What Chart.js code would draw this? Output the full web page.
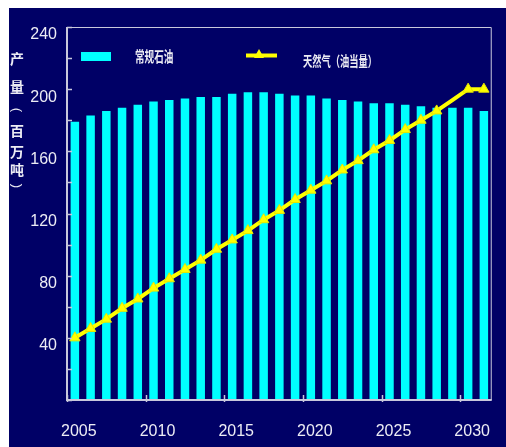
<!DOCTYPE html>
<html lang="zh">
<head>
<meta charset="UTF-8">
<title>常规石油与天然气产量</title>
<script src="https://cdn.jsdelivr.net/npm/chart.js"></script>
<style>
  html, body { margin: 0; padding: 0; background: #fff; }
  canvas { display: block; }
</style>
</head>
<body>
<canvas id="prodChart" width="506" height="447"></canvas>
<script>
const years = ['2005', '2006', '2007', '2008', '2009', '2010', '2011', '2012', '2013',
  '2014', '2015', '2016', '2017', '2018', '2019', '2020', '2021', '2022', '2023',
  '2024', '2025', '2026', '2027', '2028', '2029', '2030', '2031'];
// 常规石油, million tonnes
const oilOutput = [179, 183, 186, 188, 190, 192, 193, 194, 195, 195, 197, 198, 198, 197,
  196, 196, 194, 193, 192, 191, 191, 190, 189, 188, 188, 188, 186];
// 天然气 (oil equivalent), million tonnes
const gasOutput = [40, 46, 52, 59, 65, 72, 78, 84, 90, 97, 103, 109, 116, 122, 129, 135,
  141, 148, 154, 161, 167, 174, 180, 186, 193, 200, 200];
const gasUnmarked = ['2029'];
const yTickLabels = [40, 80, 120, 160, 200, 240];
const xTickLabels = ['2005', '2010', '2015', '2020', '2025', '2030'];
// vertical title, brackets are turned sideways when drawn
const axisTitleChars = ['产', '量', '(', '百', '万', '吨', ')'];

const NAVY = '#000066';
const TEXT = '#ececf4';
const LINE = '#c8c8dc';
const NARROW = "'Liberation Sans Narrow', 'Liberation Sans', sans-serif";
const CJK = "'Noto Sans CJK SC', sans-serif";

// white margin and navy panel behind everything
const backdrop = {
  id: 'backdrop',
  beforeDraw(chart) {
    const { ctx, width, height } = chart;
    ctx.save();
    ctx.fillStyle = '#fff';
    ctx.fillRect(0, 0, width, height);
    ctx.fillStyle = NAVY;
    ctx.fillRect(9, 8, width - 9, height - 8);
    ctx.restore();
  }
};

// axes, plot border and inward tick marks
const frame = {
  id: 'frame',
  afterDatasetsDraw(chart) {
    const { ctx, chartArea: a, scales: { x, y } } = chart;
    ctx.save();
    ctx.strokeStyle = LINE;
    ctx.lineWidth = 1;
    ctx.beginPath();
    ctx.moveTo(a.left, a.top + 0.5);
    ctx.lineTo(a.right - 0.5, a.top + 0.5);
    ctx.lineTo(a.right - 0.5, a.bottom);
    ctx.stroke();

    ctx.lineWidth = 2;
    ctx.beginPath();
    ctx.moveTo(a.left, a.top);
    ctx.lineTo(a.left, a.bottom);
    ctx.lineTo(a.right, a.bottom);
    ctx.stroke();

    ctx.lineWidth = 1.5;
    y.ticks.forEach(t => {
      const py = Math.round(y.getPixelForValue(t.value)) + 0.5;
      ctx.beginPath();
      ctx.moveTo(a.left, py);
      ctx.lineTo(a.left + 5, py);
      ctx.stroke();
    });

    const step = (a.right - a.left) / years.length;
    xTickLabels.forEach(lbl => {
      const px = Math.round(x.getPixelForValue(years.indexOf(lbl)) - step / 2) + 0.5;
      ctx.beginPath();
      ctx.moveTo(px, a.bottom - 5);
      ctx.lineTo(px, a.bottom + 2);
      ctx.stroke();
    });
    ctx.restore();
  }
};

function squeezedText(ctx, str, x, y, size, sx) {
  ctx.save();
  ctx.translate(x, y);
  ctx.scale(sx, 1);
  ctx.font = 'bold ' + size + 'px ' + CJK;
  ctx.fillStyle = TEXT;
  ctx.textBaseline = 'middle';
  ctx.fillText(str, 0, 0);
  ctx.restore();
}

// legend inside the plot and the stacked axis title
const annotations = {
  id: 'annotations',
  afterDraw(chart) {
    const ctx = chart.ctx;
    const oil = chart.data.datasets[0];
    const gas = chart.data.datasets[1];

    ctx.save();
    ctx.fillStyle = oil.backgroundColor;
    ctx.fillRect(81, 52, 30, 9);
    squeezedText(ctx, oil.label, 135, 56, 15, 0.64);

    ctx.strokeStyle = gas.borderColor;
    ctx.lineWidth = 4;
    ctx.beginPath();
    ctx.moveTo(246, 55.5);
    ctx.lineTo(277, 55.5);
    ctx.stroke();
    ctx.fillStyle = gas.backgroundColor;
    ctx.beginPath();
    ctx.moveTo(259, 49);
    ctx.lineTo(264, 58);
    ctx.lineTo(254, 58);
    ctx.closePath();
    ctx.fill();
    squeezedText(ctx, gas.label, 303, 60.5, 14, 0.66);

    const ys = [59, 87, 110, 131, 152, 170, 186];
    ctx.fillStyle = TEXT;
    ctx.textAlign = 'center';
    ctx.textBaseline = 'middle';
    axisTitleChars.forEach((c, i) => {
      ctx.save();
      ctx.translate(17, ys[i]);
      if (c === '(' || c === ')') {
        ctx.rotate(Math.PI / 2);
        ctx.font = '13px ' + NARROW;
      } else {
        ctx.font = 'bold 14px ' + CJK;
      }
      ctx.fillText(c, 0, 0);
      ctx.restore();
    });
    ctx.restore();
  }
};

new Chart(document.getElementById('prodChart'), {
  data: {
    labels: years,
    datasets: [
      {
        type: 'bar',
        label: '常规石油',
        data: oilOutput,
        backgroundColor: '#00ffff',
        borderWidth: 0,
        categoryPercentage: 1,
        barPercentage: 0.54,
        order: 2
      },
      {
        type: 'line',
        label: '天然气（油当量）',
        data: gasOutput,
        borderColor: '#ffff00',
        backgroundColor: '#ffff00',
        borderWidth: 4,
        pointStyle: 'triangle',
        pointRadius: c => gasUnmarked.includes(years[c.dataIndex]) ? 0 : 6,
        pointBorderColor: '#e6e600',
        pointBorderWidth: 1,
        tension: 0,
        order: 1
      }
    ]
  },
  options: {
    responsive: false,
    animation: false,
    layout: { padding: { top: 27, right: 1, left: 0, bottom: 0 } },
    plugins: {
      legend: { display: false },
      tooltip: { enabled: false }
    },
    scales: {
      x: {
        type: 'category',
        offset: true,
        grid: { display: false, drawTicks: false },
        border: { display: false },
        afterFit: s => { s.height = 47; },
        ticks: {
          autoSkip: false,
          maxRotation: 0,
          padding: 22,
          labelOffset: 4,
          color: TEXT,
          font: { family: NARROW, size: 16 },
          callback: (v, i) => xTickLabels.includes(years[i]) ? years[i] : ''
        }
      },
      y: {
        min: 0,
        max: 240,
        grid: { display: false, drawTicks: false },
        border: { display: false },
        afterFit: s => { s.width = 67; },
        ticks: {
          stepSize: 20,
          padding: 10,
          labelOffset: 8,
          color: TEXT,
          font: { family: NARROW, size: 16 },
          callback: v => yTickLabels.includes(v) ? String(v) : ''
        }
      }
    }
  },
  plugins: [backdrop, frame, annotations]
});
</script>
</body>
</html>
